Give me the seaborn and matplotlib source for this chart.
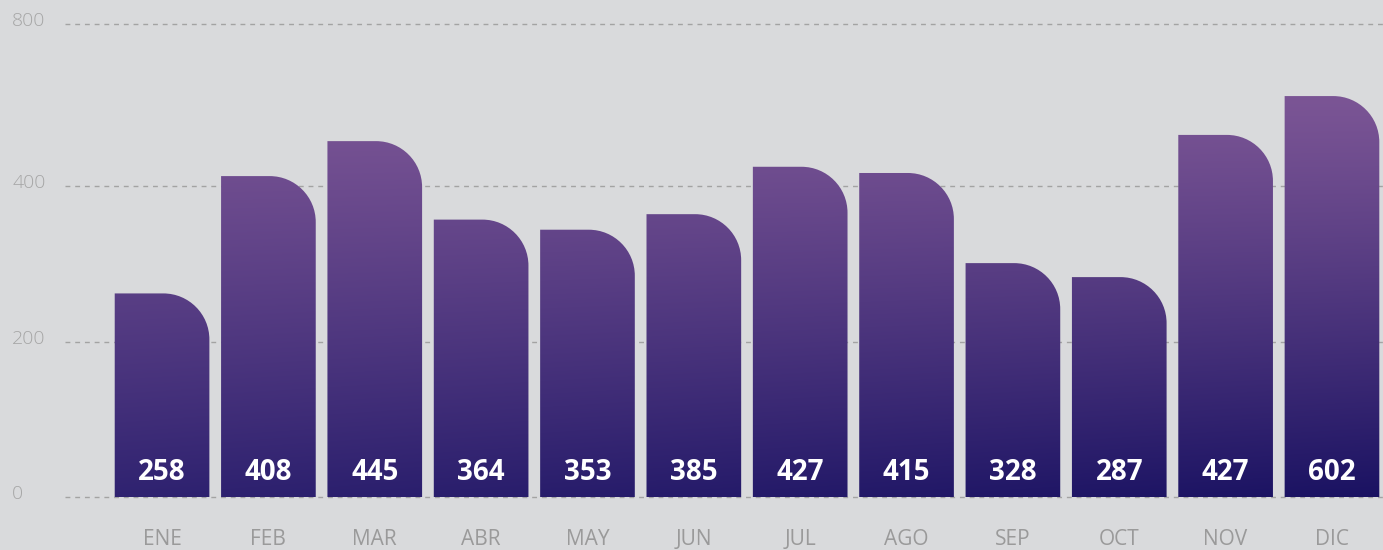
import numpy as np
import pandas as pd
import matplotlib
matplotlib.use("Agg")
import matplotlib.pyplot as plt
import matplotlib.transforms as mtransforms
from matplotlib.path import Path
from matplotlib.patches import PathPatch
from matplotlib.colors import to_rgb
import seaborn as sns

# ---- data ----
months = ["ENE", "FEB", "MAR", "ABR", "MAY", "JUN", "JUL", "AGO", "SEP", "OCT", "NOV", "DIC"]
bar_values = [262, 413, 458, 357, 344, 364, 425, 417, 301, 283, 466, 516]
value_labels = ["258", "408", "445", "364", "353", "385", "427", "415", "328", "287", "427", "602"]
ytick_values = [0, 200, 400, 609]
ytick_labels = ["0", "200", "400", "800"]

BG = "#d9dadc"
TOP_C = np.array(to_rgb("#7b5595"))
BOT_L = np.array(to_rgb("#302371"))
BOT_R = np.array(to_rgb("#1a1262"))

df = pd.DataFrame({"month": months, "value": bar_values})

W, H = 1383, 550
fig = plt.figure(figsize=(W / 100, H / 100), dpi=100, facecolor=BG)
ax = fig.add_axes([65 / W, 50 / H, (W - 65) / W, 500 / H])
ax.set_facecolor(BG)

sns.barplot(data=df, x="month", y="value", ax=ax, width=0.89,
            color="#4a3380", saturation=1, zorder=3)

px_per_unit = 0.777
px_per_cat = 106.3
xl0 = -(162 - 65) / px_per_cat
xl1 = 11 + (W - 1332) / px_per_cat
ax.set_xlim(xl0, xl1)
ax.set_ylim(-3 / px_per_unit, 497 / px_per_unit)

# gradient image
ytop = max(bar_values)
ny, nx = 300, 400
yy = np.linspace(0, ytop, ny)[:, None]
xx = np.linspace(0, 1, nx)[None, :]
t = (1 - yy / ytop) ** 1.15
bot = BOT_L[None, None, :] * (1 - xx[..., None]) + BOT_R[None, None, :] * xx[..., None]
img = TOP_C[None, None, :] * (1 - t[..., None]) + bot * t[..., None]

rx = 46 / px_per_cat
ry = 46 / px_per_unit
k = 0.5523
for p in list(ax.patches):
    x0 = p.get_x()
    w = p.get_width()
    h = p.get_height()
    x1 = x0 + w
    cx, cy = x1 - rx, h - ry
    verts = [(x0, 0), (x0, h), (cx, h),
             (cx + k * rx, h), (x1, cy + k * ry), (x1, cy),
             (x1, 0), (x0, 0)]
    codes = [Path.MOVETO, Path.LINETO, Path.LINETO,
             Path.CURVE4, Path.CURVE4, Path.CURVE4,
             Path.LINETO, Path.CLOSEPOLY]
    pp = PathPatch(Path(verts, codes), facecolor="none", edgecolor="none", transform=ax.transData)
    ax.add_patch(pp)
    im = ax.imshow(img, extent=[xl0, xl1, 0, ytop], origin="lower", aspect="auto",
                   zorder=3, interpolation="bilinear")
    im.set_clip_path(pp)
    p.set_visible(False)

ax.set_xlim(xl0, xl1)
ax.set_ylim(-3 / px_per_unit, 497 / px_per_unit)

# value labels
off = mtransforms.ScaledTranslation(0, 25 / 100, fig.dpi_scale_trans)
for i, lab in enumerate(value_labels):
    ax.text(i, 0, lab, transform=ax.transData + off, ha="center", va="center",
            color="white", fontsize=20, fontweight="bold", family="Open Sans", zorder=5)

# grid
ax.set_yticks(ytick_values)
ax.set_yticklabels(ytick_labels)
ax.grid(axis="y", color="#a3a3a3", linestyle=(0, (3.5, 3.5)), linewidth=1, zorder=0)
ax.grid(axis="x", visible=False)
ax.set_axisbelow(True)
for s in ax.spines.values():
    s.set_visible(False)

ax.tick_params(axis="y", length=0, pad=38, labelsize=14, labelcolor="#a6a6a6")
ax.tick_params(axis="x", length=0, pad=21, labelsize=15, labelcolor="#9a9a9a")
yoff = mtransforms.ScaledTranslation(0, 5 / 100, fig.dpi_scale_trans)
for lab in ax.get_yticklabels():
    lab.set_ha("left")
    lab.set_family("Open Sans")
    lab.set_fontweight("light")
    lab.set_transform(lab.get_transform() + yoff)
for lab in ax.get_xticklabels():
    lab.set_family("Open Sans")
ax.set_xlabel("")
ax.set_ylabel("")

fig.savefig("out.png", dpi=100, facecolor=BG)
